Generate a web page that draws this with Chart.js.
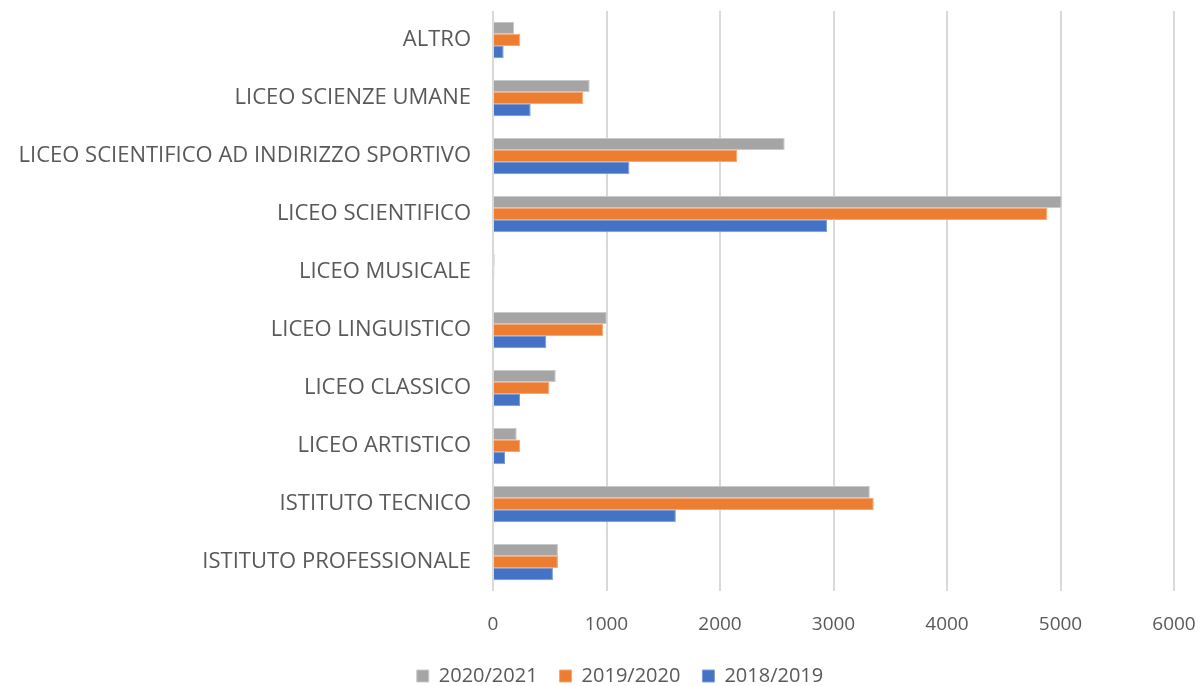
<!DOCTYPE html>
<html>
<head>
<meta charset="utf-8">
<script src="https://cdn.jsdelivr.net/npm/chart.js@4"></script>
<style>
  html, body { margin: 0; padding: 0; background: #fff; }
  #wrap { width: 1204px; height: 686px; }
</style>
</head>
<body>
<div id="wrap"><canvas id="myChart"></canvas></div>
<script>
'use strict';

const categories = [
  'ALTRO',
  'LICEO SCIENZE UMANE',
  'LICEO SCIENTIFICO AD INDIRIZZO SPORTIVO',
  'LICEO SCIENTIFICO',
  'LICEO MUSICALE',
  'LICEO LINGUISTICO',
  'LICEO CLASSICO',
  'LICEO ARTISTICO',
  'ISTITUTO TECNICO',
  'ISTITUTO PROFESSIONALE'
];

const values2021 = [185, 852, 2570, 5010, 15, 1003, 553, 209, 3320, 572];
const values2020 = [241, 796, 2153, 4885, 12, 970, 497, 238, 3355, 572];
const values2019 = [94, 332, 1202, 2944, 0, 470, 238, 106, 1611, 528];

const xTicks = [0, 1000, 2000, 3000, 4000, 5000, 6000];

const fontFamily = '"Open Sans", "Noto Sans", sans-serif';
const textColor = '#595959';

// nudge the legend to where it sits in the original
const legendShift = {
  id: 'legendShift',
  afterLayout(chart) {
    const lg = chart.legend;
    if (!lg) return;
    lg.left += 33;
    lg.right += 33;
    lg.top += 10;
    lg.bottom += 10;
  }
};

const ctx = document.getElementById('myChart');

let mainChart = new Chart(ctx, {
  type: 'bar',
  data: {
    labels: categories,
    datasets: [{
      label: '2020/2021',
      data: values2021,
      backgroundColor: '#A5A5A5',
      borderColor: '#C9C9C9',
      borderWidth: 1
    },
    {
      label: '2019/2020',
      data: values2020,
      backgroundColor: '#ED7D31',
      borderColor: '#F4A877',
      borderWidth: 1
    },
    {
      label: '2018/2019',
      data: values2019,
      backgroundColor: '#4472C4',
      borderColor: '#7C9BD6',
      borderWidth: 1
    }]
  },
  plugins: [legendShift],
  options: {
    indexAxis: 'y',
    responsive: true,
    maintainAspectRatio: false,
    animation: false,
    categoryPercentage: 0.625,
    barPercentage: 1,
    layout: {
      padding: { top: 11, right: 30, bottom: 0, left: 0 }
    },
    scales: {
      x: {
        min: 0,
        max: 6000,
        afterBuildTicks: (scale) => {
          scale.ticks = xTicks.map(v => ({ value: v }));
        },
        afterFit: (scale) => {
          scale.paddingLeft = 0;
          scale.paddingRight = 0;
          scale.height = 43;
        },
        grid: {
          color: '#D9D9D9',
          lineWidth: 2,
          drawTicks: false
        },
        border: { display: false },
        ticks: {
          color: textColor,
          padding: 22,
          maxRotation: 0,
          callback: (v) => String(v),
          font: { family: fontFamily, size: 19 }
        }
      },
      y: {
        afterFit: (scale) => {
          scale.width = 493;
          scale.paddingTop = 0;
          scale.paddingBottom = 0;
        },
        grid: { display: false, drawTicks: false },
        border: { display: false },
        ticks: {
          color: textColor,
          padding: 22,
          font: { family: fontFamily, size: 22 }
        }
      }
    },
    plugins: {
      legend: {
        position: 'bottom',
        labels: {
          color: textColor,
          boxWidth: 12,
          boxHeight: 12,
          padding: 22,
          font: { family: fontFamily, size: 20 }
        }
      },
      tooltip: { enabled: false }
    }
  }
});
</script>
</body>
</html>
